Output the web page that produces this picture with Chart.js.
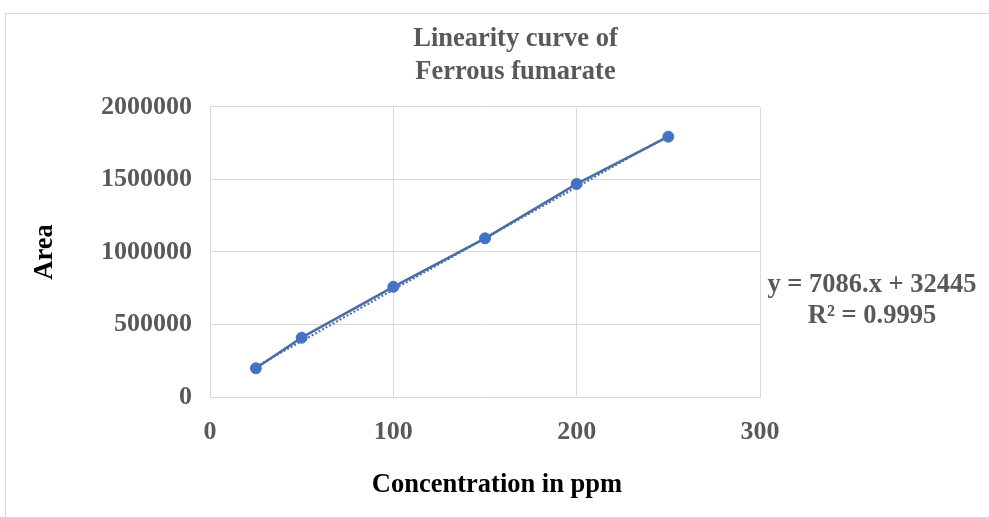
<!DOCTYPE html>
<html>
<head>
<meta charset="utf-8">
<script src="https://cdn.jsdelivr.net/npm/chart.js@4/dist/chart.umd.min.js"></script>
<style>
  html, body { margin: 0; padding: 0; background: #ffffff; overflow: hidden; width: 989px; height: 517px; }
  #frame { position: absolute; left: 5px; top: 13px; width: 1100px; height: 600px; border: 1px solid #d9d9d9; box-sizing: border-box; }
  #c { position: absolute; left: 0; top: 0; }
</style>
</head>
<body>
<div id="frame"></div>
<canvas id="c" width="989" height="517"></canvas>
<script>
// ---- data ----
const concentration = [25, 50, 100, 150, 200, 250];
const area = [198000, 409000, 760000, 1094000, 1469000, 1795000];
const trendX = [25, 250];
const trendY = [208000, 1802000];
const xTickLabels = ['0', '100', '200', '300'];
const yTickLabels = ['0', '500000', '1000000', '1500000', '2000000'];
const chartTitle = ['Linearity curve of', 'Ferrous fumarate'];
const xAxisTitle = 'Concentration in ppm';
const yAxisTitle = 'Area';
const trendEquation = ['y = 7086.x + 32445', 'R\u00B2 = 0.9995'];

const SERIF = '"Liberation Serif", "Times New Roman", serif';
const GRID = '#d9d9d9';
const TEXT_GREY = '#595959';

const points = concentration.map((x, i) => ({ x: x, y: area[i] }));
const trend = trendX.map((x, i) => ({ x: x, y: trendY[i] }));

const placeTitles = {
  id: 'placeTitles',
  afterLayout(chart) {
    chart.boxes.forEach(b => {
      if (!b.options || b instanceof Chart.Scale) return;
      const t = b.options.text;
      if (Array.isArray(t) && t[0] === chartTitle[0]) {
        b.left = 10; b.right = 1021; b.width = 1011;
      } else if (t === xAxisTitle) {
        b.left = 0; b.right = 994; b.width = 994;
      }
    });
  }
};

const equationLabel = {
  id: 'equationLabel',
  afterDraw(chart) {
    const ctx = chart.ctx;
    ctx.save();
    ctx.font = 'bold 26.5px ' + SERIF;
    ctx.fillStyle = TEXT_GREY;
    ctx.textAlign = 'center';
    ctx.textBaseline = 'middle';
    ctx.fillText(trendEquation[0], 872, 285);
    ctx.fillText(trendEquation[1], 872, 316);
    ctx.restore();
  }
};

new Chart(document.getElementById('c'), {
  type: 'scatter',
  data: {
    datasets: [
      {
        label: 'Area',
        data: points,
        showLine: true,
        borderColor: '#4a6ea3',
        borderWidth: 2.5,
        pointRadius: 5.5,
        pointBackgroundColor: '#4472c4',
        pointBorderColor: '#4472c4',
        pointBorderWidth: 1,
        order: 1
      },
      {
        label: 'Linear trend',
        data: trend,
        showLine: true,
        borderColor: '#4a6ea3',
        borderWidth: 2,
        borderDash: [2, 2],
        pointRadius: 0,
        order: 2
      }
    ]
  },
  options: {
    responsive: false,
    animation: false,
    layout: { padding: { left: 0, right: 229, top: 0, bottom: 0 } },
    plugins: {
      legend: { display: false },
      tooltip: { enabled: false },
      title: {
        display: true,
        text: chartTitle,
        color: TEXT_GREY,
        font: { family: SERIF, size: 26.5, weight: 'bold', lineHeight: 1.22 },
        padding: { top: 23.3, bottom: 19 }
      },
      subtitle: {
        display: true,
        position: 'bottom',
        text: xAxisTitle,
        color: '#000000',
        font: { family: SERIF, size: 26.5, weight: 'bold', lineHeight: 1.2 },
        padding: { top: 0, bottom: 16.1 }
      }
    },
    scales: {
      x: {
        type: 'linear',
        min: 0,
        max: 300,
        afterFit(scale) { scale.height = 72.1; },
        ticks: {
          stepSize: 100,
          autoSkip: false,
          maxRotation: 0,
          padding: 20,
          color: TEXT_GREY,
          font: { family: SERIF, size: 26, weight: 'bold', lineHeight: 1.2 },
          callback: (v) => xTickLabels[Math.round(v / 100)]
        },
        grid: { color: GRID, lineWidth: 1, drawTicks: false },
        border: { display: true, color: GRID, width: 1 }
      },
      y: {
        type: 'linear',
        min: 0,
        max: 2000000,
        afterFit(scale) { scale.width = 210; },
        ticks: {
          stepSize: 500000,
          autoSkip: false,
          padding: 18,
          color: TEXT_GREY,
          font: { family: SERIF, size: 26, weight: 'bold', lineHeight: 1.2 },
          callback: (v) => yTickLabels[Math.round(v / 500000)]
        },
        grid: { color: GRID, lineWidth: 1, drawTicks: false },
        border: { display: true, color: GRID, width: 1 },
        title: {
          display: true,
          text: yAxisTitle,
          color: '#000000',
          font: { family: SERIF, size: 26.5, weight: 'bold', lineHeight: 1.2 },
          padding: { top: 29, bottom: 0 }
        }
      }
    }
  },
  plugins: [placeTitles, equationLabel]
});
</script>
</body>
</html>
